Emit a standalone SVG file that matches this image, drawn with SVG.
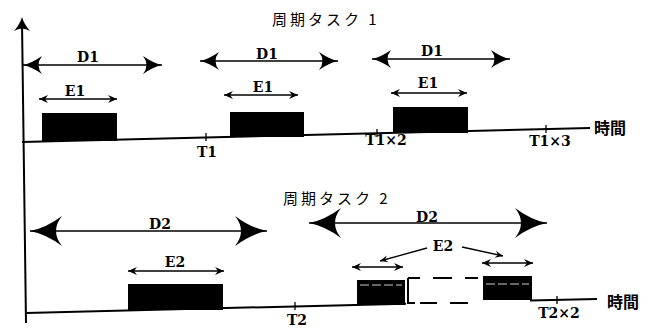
<svg xmlns="http://www.w3.org/2000/svg" width="648" height="329" viewBox="0 0 648 329">
<style>
.ln{stroke:#000;stroke-width:2;fill:none}
.thin{stroke:#000;stroke-width:1.3;fill:none}
.bx{fill:#000}
.lbl{font-family:"DejaVu Serif","Liberation Serif",serif;font-weight:bold;font-size:14px;fill:#000;text-anchor:middle}
.jp{font-family:"Noto Sans CJK JP",sans-serif;font-size:15px;fill:#000}
.jt{font-family:"Noto Sans CJK JP",sans-serif;font-size:16px;font-weight:bold;fill:#000}
.stripe{stroke:#fff;stroke-width:0.8;stroke-dasharray:9 3}
.d1{marker-start:url(#mD1);marker-end:url(#mD1)}
.d2{marker-start:url(#mD2);marker-end:url(#mD2)}
.e{marker-start:url(#mE);marker-end:url(#mE)}
</style>
<defs>
<marker id="mD1" markerUnits="userSpaceOnUse" orient="auto-start-reverse" overflow="visible" refX="0" refY="0" markerWidth="1" markerHeight="1">
<path d="M0,0 Q-9,-2 -19,-9 Q-12,0 -19,9 Q-9,2 0,0 Z" fill="#000"/>
</marker>
<marker id="mD2" markerUnits="userSpaceOnUse" orient="auto-start-reverse" overflow="visible" refX="0" refY="0" markerWidth="1" markerHeight="1">
<path d="M0,0 Q-16,-3 -32,-15 Q-20,0 -32,15 Q-16,3 0,0 Z" fill="#000"/>
</marker>
<marker id="mE" markerUnits="userSpaceOnUse" orient="auto-start-reverse" overflow="visible" refX="0" refY="0" markerWidth="1" markerHeight="1">
<path d="M0,0 L-9,-4 L-6,0 L-9,4 Z" fill="#000"/>
</marker>
<marker id="mP" markerUnits="userSpaceOnUse" orient="auto" overflow="visible" refX="0" refY="0" markerWidth="1" markerHeight="1">
<path d="M0,0 L-8,-3.5 L-5,0 L-8,3.5 Z" fill="#000"/>
</marker>
</defs>

<g id="axes">
<line class="ln" x1="22" y1="22" x2="26" y2="323"/>
<path d="M22,17 Q20,24 14,31 Q22,26 30,31 Q24,24 22,17 Z" fill="#000"/>
</g>

<g id="task1">
<text class="jp" x="272" y="25" letter-spacing="3">周期タスク 1</text>
<line class="ln" x1="22" y1="142" x2="590" y2="128"/>
<g id="t1-box1"><rect class="bx" x="42" y="113" width="75" height="28"/></g>
<g id="t1-box2"><rect class="bx" x="230" y="112" width="74" height="25"/></g>
<g id="t1-box3"><rect class="bx" x="393" y="107" width="75" height="26"/></g>
<g id="t1-ticks">
<line class="thin" x1="206" y1="133" x2="206" y2="141"/>
<line class="thin" x1="377" y1="129" x2="377" y2="137"/>
<line class="thin" x1="546" y1="125" x2="546" y2="133"/>
</g>
<text class="lbl" x="207" y="157">T1</text>
<text class="lbl" x="386" y="145">T1×2</text>
<text class="lbl" x="550" y="146">T1×3</text>
<text class="jt" x="594" y="134">時間</text>
</g>

<g id="task2">
<text class="jp" x="283" y="204" letter-spacing="3">周期タスク 2</text>
<line class="ln" x1="26" y1="313" x2="406" y2="303.7"/>
<line class="ln" x1="530" y1="300.6" x2="597" y2="299"/>
<g id="t2-box1"><rect class="bx" x="128" y="284" width="95" height="26"/></g>
<g id="t2-box2"><rect class="bx" x="357" y="280" width="48" height="25"/>
<line class="stripe" x1="360" y1="285" x2="402" y2="285"/></g>
<g id="t2-dashed">
<line class="ln" x1="408" y1="278" x2="408" y2="304"/>
<path class="ln" d="M408,278 H420 M433,278 H452 M465,278 H478 M408,303 H415 M420,303 H437 M450,303 H468"/>
</g>
<g id="t2-box3"><rect class="bx" x="483" y="276" width="49" height="24"/>
<line class="stripe" x1="486" y1="284" x2="529" y2="284"/></g>
<g id="t2-ticks">
<line class="thin" x1="295" y1="302" x2="295" y2="310"/>
<line class="thin" x1="557" y1="296" x2="557" y2="304"/>
</g>
<text class="lbl" x="297" y="325">T2</text>
<text class="lbl" x="559" y="318">T2×2</text>
<text class="jt" x="607" y="308">時間</text>
</g>

<g id="connectors">
<line class="thin d1" x1="23" y1="65" x2="162" y2="65"/>
<line class="thin d1" x1="200" y1="61" x2="338" y2="61"/>
<line class="thin d1" x1="372" y1="59" x2="510" y2="59"/>
<line class="thin e" x1="39" y1="99" x2="117" y2="99"/>
<line class="thin e" x1="224" y1="95" x2="298" y2="95"/>
<line class="thin e" x1="391" y1="93" x2="467" y2="93"/>
<line class="thin d2" x1="30" y1="231" x2="267" y2="231"/>
<line class="thin d2" x1="309" y1="223" x2="547" y2="223"/>
<line class="thin e" x1="128" y1="271" x2="224" y2="271"/>
<line class="thin e" x1="352" y1="267" x2="403" y2="267"/>
<line class="thin e" x1="482" y1="263" x2="533" y2="263"/>
<line class="thin" x1="427" y1="248" x2="380" y2="261" marker-end="url(#mP)"/>
<line class="thin" x1="462" y1="247" x2="503" y2="256" marker-end="url(#mP)"/>
</g>

<g id="labels">
<text class="lbl" x="88" y="62">D1</text>
<text class="lbl" x="267" y="59">D1</text>
<text class="lbl" x="432" y="56">D1</text>
<text class="lbl" x="75" y="96">E1</text>
<text class="lbl" x="263" y="92">E1</text>
<text class="lbl" x="428" y="88">E1</text>
<text class="lbl" x="160" y="229">D2</text>
<text class="lbl" x="427" y="222">D2</text>
<text class="lbl" x="175" y="267">E2</text>
<text class="lbl" x="443" y="251">E2</text>
</g>
</svg>
